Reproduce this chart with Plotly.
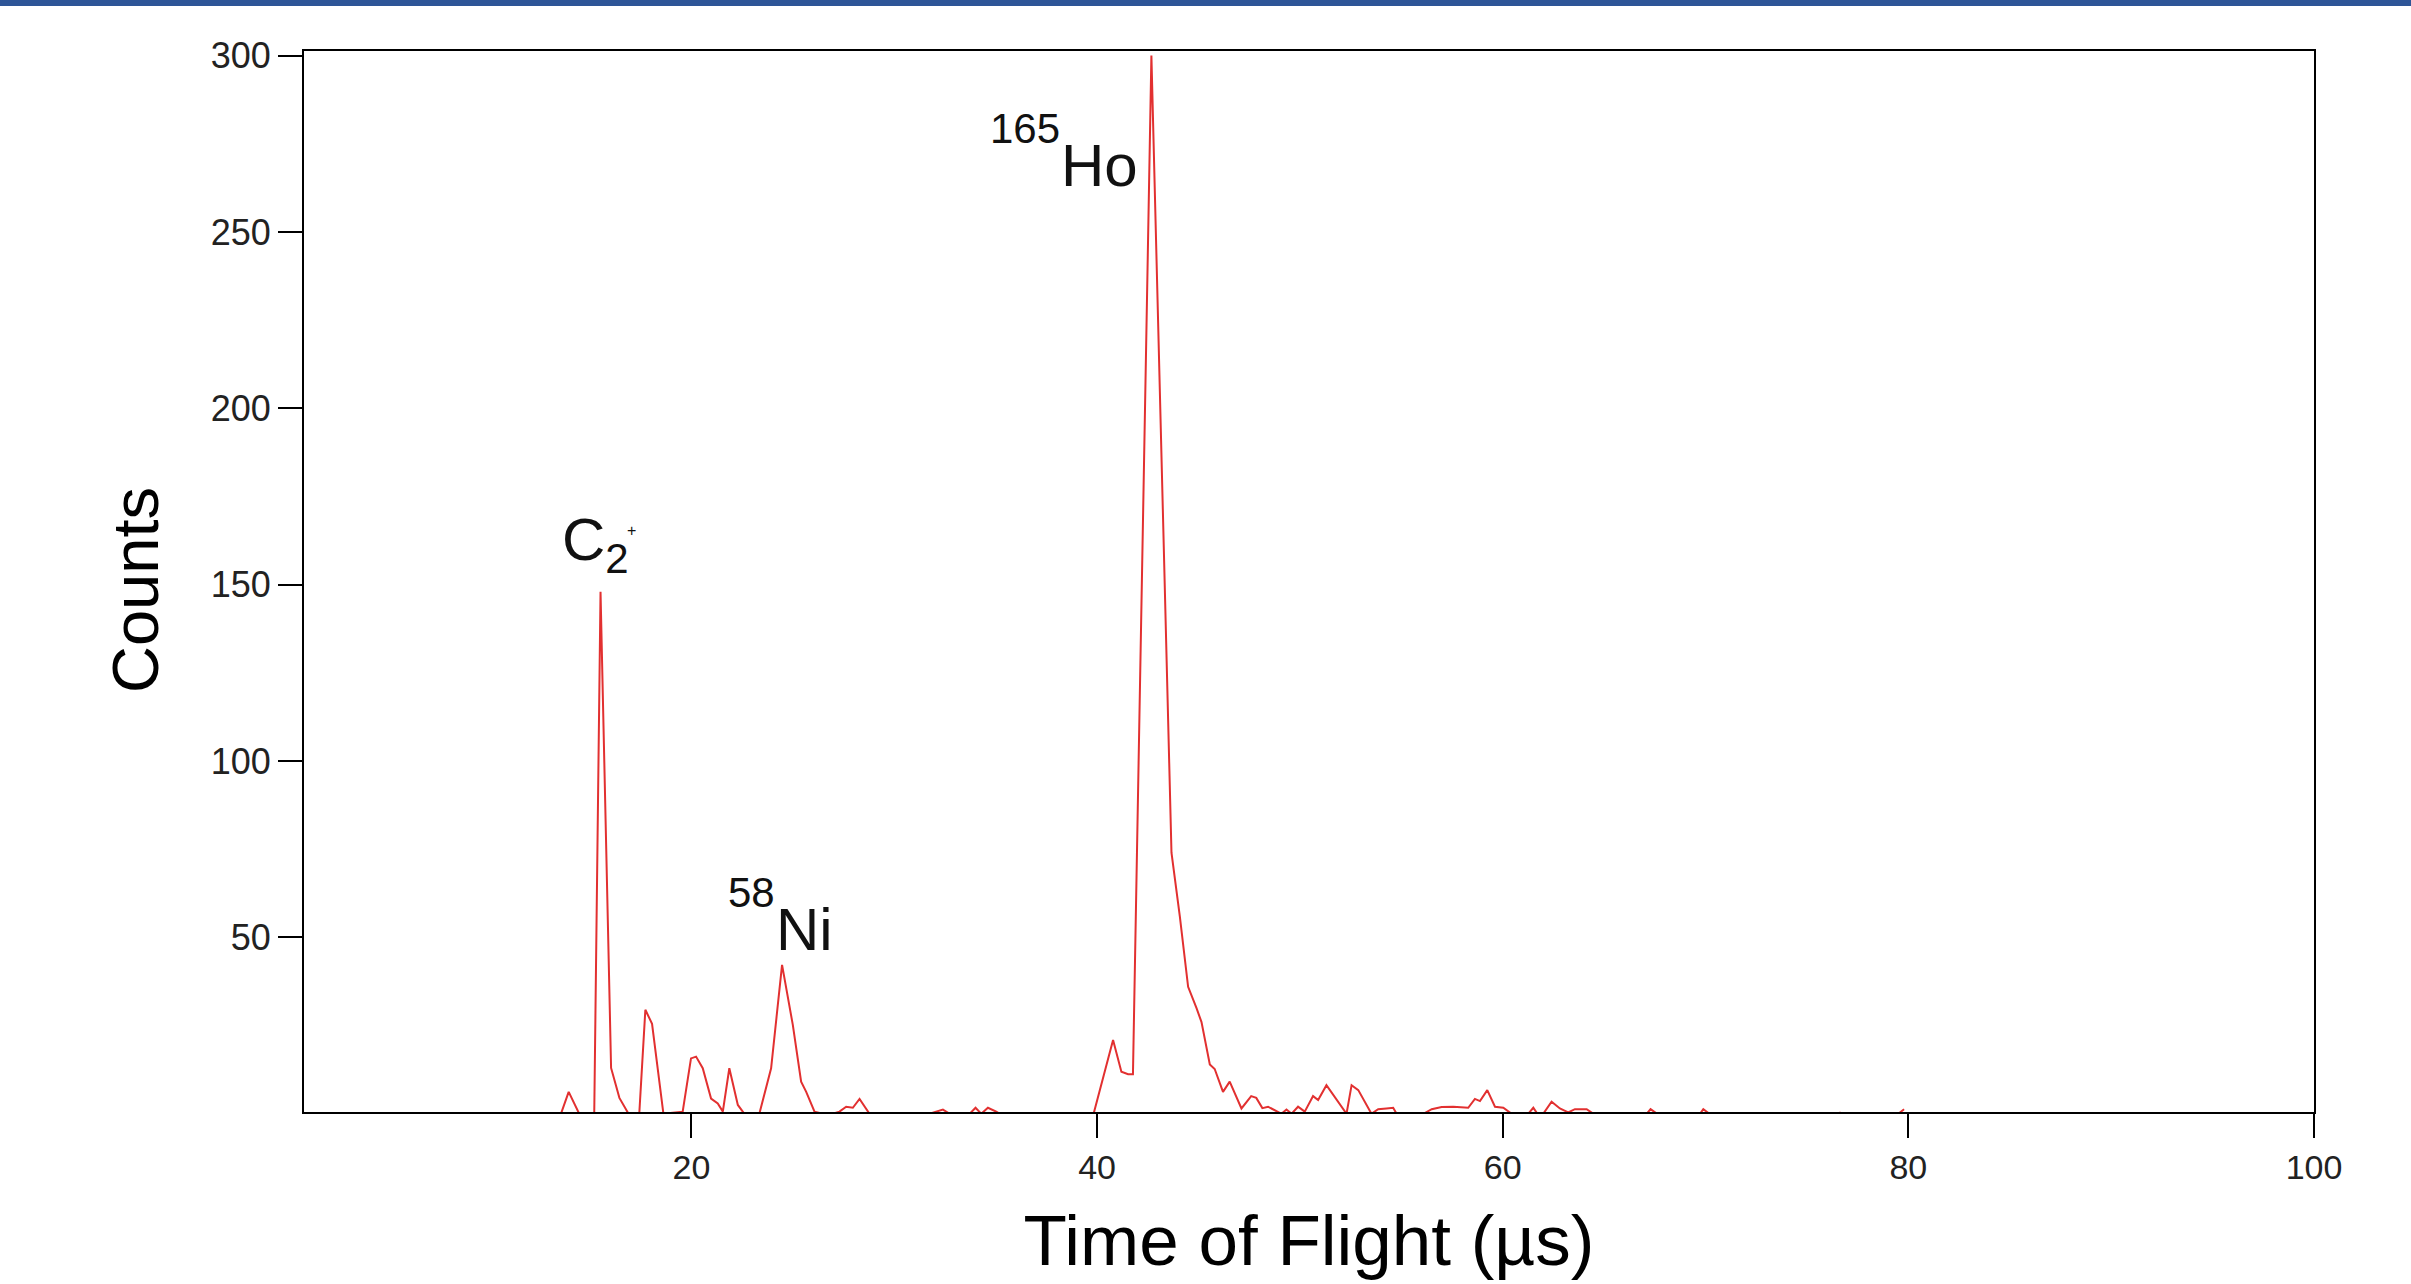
import plotly.graph_objects as go

# Time of flight (µs) and counts
tof = [13.0, 13.57, 13.95, 14.47, 15.21, 15.52, 16.04, 16.45, 16.9, 17.43, 17.73, 18.06, 18.62,
       19.57, 19.98, 20.23, 20.56, 20.97, 21.3, 21.55, 21.87, 22.29, 22.61, 23.35, 23.93, 24.47,
       25.0, 25.41, 25.66, 26.07, 26.48, 26.97, 27.3, 27.63, 27.96, 28.29, 28.78, 31.74, 32.4,
       32.73, 33.72, 34.01, 34.29, 34.62, 35.03, 35.2, 36.27, 36.84, 39.83, 40.79, 41.2, 41.53,
       41.77, 42.68, 43.67, 44.08, 44.49, 44.9, 45.15, 45.56, 45.8, 46.21, 46.54, 47.12, 47.6,
       47.85, 48.15, 48.43, 48.76, 49.09, 49.34, 49.59, 49.91, 50.24, 50.65, 50.9, 51.31, 52.3,
       52.55, 52.88, 53.53, 53.86, 54.27, 54.6, 54.77, 55.26, 55.75, 56.16, 56.5, 56.99, 57.56,
       58.3, 58.63, 58.88, 59.24, 59.62, 60.03, 60.44, 61.26, 61.51, 61.71, 62.0, 62.41, 62.82,
       63.23, 63.56, 64.14, 64.47, 67.1, 67.29, 67.59, 68.25, 69.73, 69.89, 70.19, 76.4, 76.63,
       76.9, 79.51, 79.79]
counts = [0, 0, 6.2, 0, 0, 148, 13, 4.5, 0, 0, 29.5, 25.5, 0,
          0.6, 15.7, 16.2, 12.9, 4.3, 2.9, 0.6, 12.9, 2.5, 0, 0, 12.9, 42.2,
          25.2, 9.1, 6.2, 0.6, 0, 0, 0.6, 2, 1.7, 4.2, 0, 0, 1.2,
          0, 0, 1.7, 0, 1.7, 0.6, 0, 0.2, 0.2, 0, 20.9, 11.9, 11.2,
          11.2, 300, 74, 56, 36, 30, 26, 14, 12.7, 6.2, 9.1, 1.5, 5,
          4.5, 1.6, 2, 1, 0, 1.2, 0, 2, 0.6, 5, 3.9, 8.1, 0,
          8.1, 6.7, 0, 1.3, 1.5, 1.7, 0, 0, 0.2, 0.2, 1.3, 1.9, 2,
          1.7, 4.2, 3.6, 6.7, 2, 1.7, 0, 0, 1.7, 0, 0, 3.4, 1.5,
          0.4, 1.3, 1.3, 0, 0, 1.3, 0.1, 0, 0, 1.3, 0, 0, 0.3,
          0, 0, 1.3]

x_ticks = [20, 40, 60, 80, 100]
y_ticks = [50, 100, 150, 200, 250, 300]

# peak labels: main text, small leading superscripts and a trailing charge sign
main_labels = ["C<sub>2</sub>", "Ni", "Ho"]
main_x = [13.5, 24.05, 38.1]
main_y = [161.5, 52.3, 268.7]
pre_labels = ["58", "165"]
pre_x = [24.2, 38.25]
pre_y = [62.7, 279.2]
charge_label = "+"
charge_x = 17.05
charge_y = 165.5

W, H = 2411, 1284
ML, MR, MT, MB = 304, 97, 51, 172
FONT = "Liberation Sans, Arial, sans-serif"
TXT = "#111111"

fig = go.Figure()
fig.add_trace(go.Scatter(x=tof, y=counts, mode="lines",
                         line=dict(color="rgb(226,48,48)", width=2),
                         showlegend=False, hoverinfo="x+y"))

for t, xv, yv in zip(main_labels, main_x, main_y):
    fig.add_annotation(x=xv, y=yv, text=t, showarrow=False,
                       xanchor="left", yanchor="middle",
                       font=dict(family=FONT, size=60, color=TXT))
for t, xv, yv in zip(pre_labels, pre_x, pre_y):
    fig.add_annotation(x=xv, y=yv, text=t, showarrow=False,
                       xanchor="right", yanchor="middle",
                       font=dict(family=FONT, size=42, color=TXT))
fig.add_annotation(x=charge_x, y=charge_y, text=charge_label, showarrow=False,
                   xanchor="center", yanchor="middle",
                   font=dict(family=FONT, size=16, color=TXT))

pw = W - ML - MR
ph = H - MT - MB

# y-axis title, placed slightly below the plot centre as in the reference
fig.add_annotation(xref="paper", yref="paper", x=(135 - ML) / pw, y=1 - (590 - MT) / ph,
                   text="Counts", textangle=-90, showarrow=False,
                   xanchor="center", yanchor="middle",
                   font=dict(family=FONT, size=65, color="#000000"))

fig.add_shape(type="rect", xref="paper", yref="paper",
              x0=-ML / pw, x1=(W - ML) / pw,
              y0=1 + (MT - 6) / ph, y1=1 + MT / ph,
              line=dict(width=0), fillcolor="#2e5597", layer="above")

fig.update_layout(
    width=W, height=H,
    margin=dict(l=ML, r=MR, t=MT, b=MB),
    paper_bgcolor="white", plot_bgcolor="white",
    font=dict(family=FONT, color=TXT),
    xaxis=dict(range=[0.9, 100], tickvals=x_ticks, ticks="outside", ticklen=24,
               tickwidth=2, tickcolor="black", showline=True, linecolor="black",
               linewidth=2, mirror=True, showgrid=False, zeroline=False,
               tickfont=dict(size=34, family=FONT, color="#222222"),
               title=dict(text="Time of Flight (µs)", font=dict(size=71, family=FONT, color="#000000"),
                          standoff=31)),
    yaxis=dict(range=[0.5, 301.3], tickvals=y_ticks, ticks="outside", ticklen=24,
               tickwidth=2, tickcolor="black", showline=True, linecolor="black",
               linewidth=2, mirror=True, showgrid=False, zeroline=False,
               tickfont=dict(size=36, family=FONT, color="#222222")),
)

fig.write_html("out.html", config={"displayModeBar": False},
               post_script="document.body.style.margin='0';")
